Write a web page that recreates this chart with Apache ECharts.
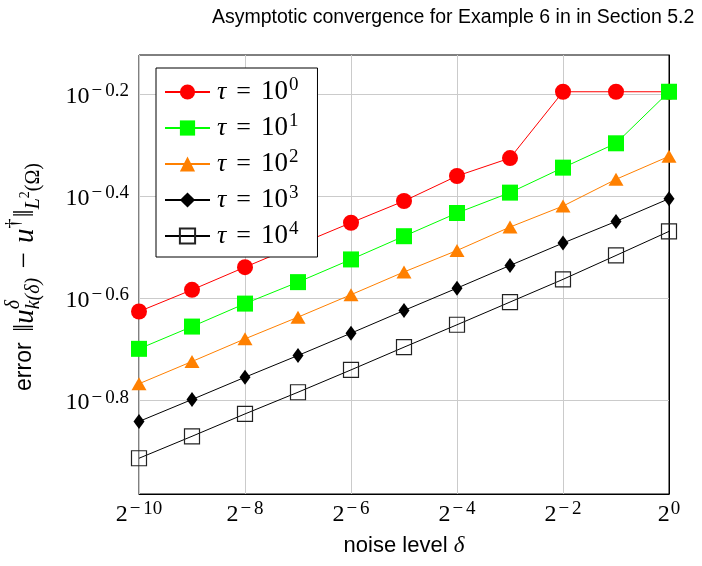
<!DOCTYPE html>
<html><head><meta charset="utf-8">
<script src="https://cdn.jsdelivr.net/npm/echarts@6/dist/echarts.min.js"></script>
<style>html,body{margin:0;padding:0;background:#fff}#c{width:702px;height:566px}</style>
</head><body><div id="c"></div>
<script>
// noise levels delta (x), 2^-10 ... 2^0
const noiseLevels = [0.0009765625, 0.001953125, 0.00390625, 0.0078125, 0.015625, 0.03125, 0.0625, 0.125, 0.25, 0.5, 1];
// errors ||u_k(delta)^delta - u^dagger||_{L^2}
const errTau1e0 = [0.2363, 0.2606, 0.2887, 0.3192, 0.3527, 0.3890, 0.4355, 0.4721, 0.6368, 0.6368, 0.6368];
const errTau1e1 = [0.1997, 0.2208, 0.2449, 0.2698, 0.2989, 0.3319, 0.3685, 0.4040, 0.4522, 0.5047, 0.6368];
const errTau1e2 = [0.1706, 0.1886, 0.2089, 0.2304, 0.2549, 0.2825, 0.3112, 0.3459, 0.3802, 0.4290, 0.4759];
const errTau1e3 = [0.1439, 0.1589, 0.1757, 0.1938, 0.2143, 0.2374, 0.2626, 0.2909, 0.3218, 0.3548, 0.3931];
const errTau1e4 = [0.1219, 0.1346, 0.1489, 0.1642, 0.1816, 0.2012, 0.2226, 0.2466, 0.2732, 0.3043, 0.3392];
const tauExponents = ['0', '1', '2', '3', '4'];
// tick labels (exponents)
const xTickExponents = [-10, -8, -6, -4, -2, 0];
const yTickExponents = [-0.8, -0.6, -0.4, -0.2];
const titleText = 'Asymptotic convergence for Example 6 in in Section 5.2';

const SERIF = '"Liberation Serif", "Times New Roman", serif';
const SANS = '"Liberation Sans", Arial, Helvetica, sans-serif';
const MINUS = '\u2212';

const chart = echarts.init(document.getElementById('c'), null, {renderer: 'canvas'});

const tickRich = {
  b: {fontFamily: SERIF, fontSize: 24, color: '#000', verticalAlign: 'bottom', lineHeight: 24},
  m: {fontFamily: SERIF, fontSize: 19, color: '#000', verticalAlign: 'bottom', lineHeight: 19, padding: [0, 2, 8, 2]},
  s: {fontFamily: SERIF, fontSize: 19, color: '#000', verticalAlign: 'bottom', lineHeight: 19, padding: [0, 0, 8, 1]}
};
const legendRich = {
  i: {fontFamily: SERIF, fontSize: 26, fontStyle: 'italic', color: '#000', verticalAlign: 'bottom', lineHeight: 26},
  e: {fontFamily: SERIF, fontSize: 26, color: '#000', verticalAlign: 'bottom', lineHeight: 26, padding: [0, 10, 0, 10]},
  b: {fontFamily: SERIF, fontSize: 27, color: '#000', verticalAlign: 'bottom', lineHeight: 26},
  s: {fontFamily: SERIF, fontSize: 19, color: '#000', verticalAlign: 'bottom', lineHeight: 19, padding: [0, 0, 10, 1]}
};

const seriesDefs = [
  {data: errTau1e0, color: '#ff0000', symbol: 'circle', size: 16, fill: '#ff0000'},
  {data: errTau1e1, color: '#00ff00', symbol: 'rect', size: 16, fill: '#00ff00'},
  {data: errTau1e2, color: '#ff8000', symbol: 'triangle', size: [15, 13], fill: '#ff8000'},
  {data: errTau1e3, color: '#000000', symbol: 'diamond', size: [11, 15], fill: '#000000'},
  {data: errTau1e4, color: '#000000', symbol: 'rect', size: 15, fill: 'rgba(0,0,0,0)', border: '#222'}
];

const series = seriesDefs.map((d, k) => ({
  type: 'line',
  name: 'tau=10^' + tauExponents[k],
  data: noiseLevels.map((x, i) => [Math.log2(x), Math.log10(d.data[i])]),
  symbol: d.symbol,
  symbolSize: d.size,
  showAllSymbol: true,
  lineStyle: {color: d.color, width: 1},
  itemStyle: d.border ? {color: d.fill, borderColor: d.border, borderWidth: 1.2} : {color: d.fill, borderWidth: 0},
  emphasis: {disabled: true},
  animation: false,
  clip: false
}));

// y-axis name built from text pieces (rotated)
const mctx = document.createElement('canvas').getContext('2d');
function fontStr(p) { return (p.it ? 'italic ' : '') + p.s + 'px ' + (p.f || SERIF); }
function measure(p) { mctx.font = fontStr(p); return mctx.measureText(p.t).width + (p.gap || 0); }
const yNamePieces = [
  [{t: 'error ', f: SANS, s: 23, gap: 4}],
  [{t: '\u2016', s: 29}],
  [{t: 'u', s: 29, it: true}],
  [{t: '\u03b4', s: 20, it: true, dy: -11}, {t: 'k(\u03b4)', s: 20, it: true, dy: 9}],
  [{t: ' ' + MINUS + ' ', s: 29, gap: 4, pre: 2}],
  [{t: 'u', s: 29, it: true}],
  [{t: '\u2020', s: 20, dy: -11, gap: 1}],
  [{t: '\u2016', s: 29}],
  [{t: 'L', s: 20, it: true, dy: 9}],
  [{t: '2', s: 14, dy: 0}],
  [{t: '(\u03a9)', s: 20, dy: 9}]
];
let total = 0;
const widths = yNamePieces.map(st => { const w = Math.max(...st.map(measure)); total += w; return w; });
const yNameChildren = [];
let cx = -total / 2;
yNamePieces.forEach((st, j) => {
  st.forEach(p => {
    yNameChildren.push({
      type: 'text', x: cx + (p.pre || 0), y: p.dy || 0,
      style: {text: p.t, fontFamily: p.f || SERIF, fontSize: p.s, fontStyle: p.it ? 'italic' : 'normal',
              fill: '#000', textAlign: 'left', textVerticalAlign: 'middle'}
    });
  });
  cx += widths[j];
});

function expLabel(base, v, digits) {
  const num = digits != null ? Math.abs(v).toFixed(digits) : String(Math.abs(v));
  return '{b|' + base + '}' + (v < 0 ? '{m|' + MINUS + '}' : '') + '{s|' + num + '}';
}

const option = {
  backgroundColor: '#fff',
  animation: false,
  title: {
    text: titleText, left: 212, top: 8, padding: 0,
    textStyle: {fontFamily: SANS, fontSize: 19.5, fontWeight: 'normal', color: '#000'}
  },
  grid: {left: 139, right: 33, top: 55, bottom: 72, containLabel: false, outerBoundsMode: 'none',
         show: true, borderColor: '#000', borderWidth: 1, backgroundColor: 'transparent'},
  legend: {
    orient: 'vertical', left: 156, top: 68, z: 10,
    backgroundColor: '#fff', borderColor: '#000', borderWidth: 1,
    padding: [8, 19, 8, 8], itemGap: 7, itemWidth: 45, itemHeight: 19,
    selectedMode: false,
    formatter: name => '{i|\u03c4}{e|=}{b|10}{s|' + name.split('^')[1] + '}',
    textStyle: {rich: legendRich, padding: [0, 0, 0, 2]}
  },
  xAxis: {
    type: 'value', min: -10, max: 0, interval: 2,
    axisLine: {show: true, lineStyle: {color: '#000', width: 1}},
    axisTick: {show: false},
    splitLine: {show: true, lineStyle: {color: '#cbcbcb', width: 1}},
    axisLabel: {
      margin: 9, showMinLabel: true, showMaxLabel: true,
      formatter: v => expLabel('2', v),
      rich: tickRich
    },
    name: '{a|noise level }{d|\u03b4}', nameLocation: 'middle', nameGap: 40,
    nameTextStyle: {rich: {
      a: {fontFamily: SANS, fontSize: 22, color: '#000'},
      d: {fontFamily: SERIF, fontSize: 23, fontStyle: 'italic', color: '#000'}
    }}
  },
  yAxis: {
    type: 'value', min: -0.984, max: -0.124,
    axisLine: {show: true, lineStyle: {color: '#000', width: 1}},
    axisTick: {show: false, customValues: yTickExponents},
    splitLine: {show: true, customValues: yTickExponents, lineStyle: {color: '#cbcbcb', width: 1}},
    axisLabel: {
      margin: 10, customValues: yTickExponents, padding: [6, 0, 0, 0],
      formatter: v => expLabel('10', v, 1),
      rich: tickRich
    }
  },
  graphic: [{
    type: 'group', x: 25, y: 277, rotation: Math.PI / 2,
    children: yNameChildren
  }],
  series: series
};
chart.setOption(option);
</script></body></html>
